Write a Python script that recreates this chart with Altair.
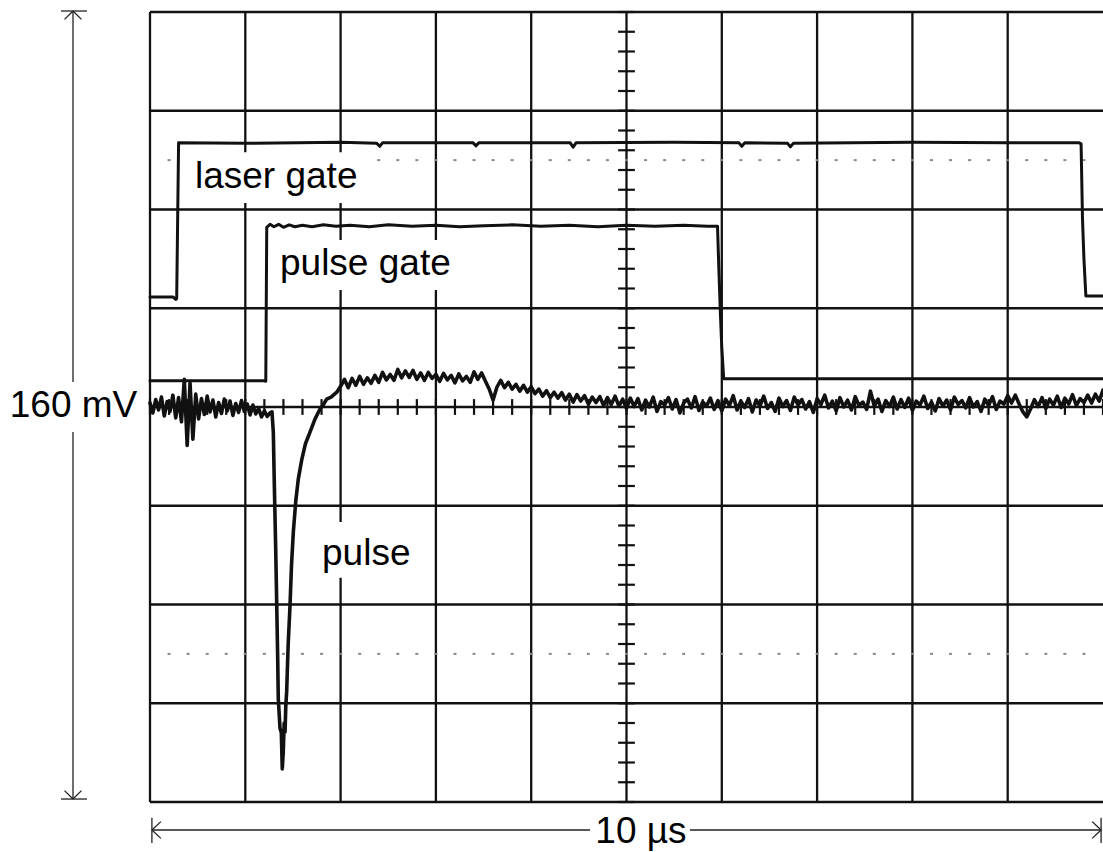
import altair as alt
import pandas as pd

# Scope screen: 1 µs/div horizontally (10 div), 20 mV/div vertically (8 div)
T_DOMAIN = [0, 10]
V_DOMAIN = [-80, 80]

# Channel 1: laser gate (mV vs µs)
laser_t = [0, 0.24, 0.27, 0.28, 0.30, 1.0, 2.0, 2.38, 2.41, 2.44, 3.39, 3.42, 3.45,
           4.41, 4.44, 4.47, 5.5, 6.18, 6.21, 6.24, 6.69, 6.72, 6.75, 8.0, 9.0, 9.75,
           9.77, 9.785, 9.80, 9.82, 10]
laser_v = [22.3, 22.3, 21.8, 22.0, 53.5, 53.4, 53.6, 53.4, 52.8, 53.5, 53.5, 52.9, 53.5,
           53.5, 52.6, 53.5, 53.6, 53.5, 52.8, 53.5, 53.4, 52.7, 53.4, 53.6, 53.5, 53.5,
           53.3, 38, 30, 22.5, 22.5]

# Channel 2: pulse gate
gate_t = [0, 1.20, 1.215, 1.225, 1.26, 1.30, 1.35, 1.40, 1.46, 1.52, 1.60, 1.70, 1.82,
          1.95, 2.10, 2.30, 2.50, 2.75, 3.00, 3.25, 3.50, 3.80, 4.10, 4.40, 4.70, 5.00,
          5.30, 5.60, 5.85, 5.955, 5.97, 5.985, 6.00, 6.02, 10]
gate_v = [5.3, 5.3, 5.2, 36.4, 37.0, 36.5, 37.0, 36.4, 36.9, 36.5, 36.8, 36.5, 36.9,
          36.6, 36.8, 36.5, 36.9, 36.6, 36.8, 36.5, 36.7, 36.9, 36.6, 36.8, 36.5, 36.8,
          36.6, 36.8, 36.6, 36.6, 27.5, 19, 12, 5.7, 5.7]

# Channel 3: detected pulse
# pre-trigger record, one sample every 0.03 µs from 0 µs
pre_dt = 0.03
pulse_pre = [0.8, -1.2, 1.5, -0.6, 2.0, -1.8, 1.1, -0.9, 2.4, -2.2, 1.9, -3.0, 5.6,
             -7.8, 4.9, -6.5, 2.6, -2.4, 1.7, -1.5, 2.2, -1.0, 1.4, -2.0, 0.9, -1.3,
             1.6, -0.8, 1.2, -1.7, 0.7, -1.1, 1.3, -0.9, 0.6, -1.6, 0.4, -1.4, -0.3,
             -2.0, -0.8, -1.9, -1.2]
# fast negative edge and recovery
edge_t = [1.28, 1.294, 1.304, 1.319, 1.330, 1.340, 1.346, 1.364, 1.378, 1.388,
          1.398, 1.408, 1.417, 1.425, 1.434, 1.45, 1.469, 1.485, 1.504, 1.53,
          1.556, 1.592, 1.63, 1.679, 1.73, 1.784, 1.82, 1.854, 1.90, 1.96]
edge_v = [-1.0, -5.1, -15.2, -28.8, -40.3, -51.0, -59.0, -65.0, -66.0, -73.3,
          -70.0, -64.0, -65.8, -60.5, -57.7, -48.0, -40.3, -32.0, -25.3, -19.0,
          -14.6, -10.7, -7.5, -5.1, -2.5, -0.4, 0.5, 1.6, 2.0, 3.0]
# tail record, one sample every 0.04 µs from 2.00 µs
tail_t0 = 2.0
tail_dt = 0.04
pulse_tail = [
    4.2, 5.6, 3.9, 5.8, 4.4, 6.2, 4.6, 5.9, 4.8, 6.4,
    5.0, 7.0, 5.5, 6.6, 5.4, 7.6, 5.9, 7.3, 6.0, 7.4,
    5.6, 6.9, 5.4, 7.0, 5.8, 6.6, 5.2, 6.8, 5.5, 6.4,
    4.9, 6.7, 5.3, 6.2, 5.0, 7.1, 5.6, 6.9, 5.2, 3.6,
    1.4, 4.0, 5.4, 3.9, 5.0, 3.6, 4.6, 3.2, 4.4, 3.0,
    4.1, 2.7, 3.6, 2.2, 3.3, 1.9, 3.0, 1.8, 2.9, 1.4,
    2.6, 1.0, 2.5, 1.2, 2.3, 0.6, 2.0, 0.9, 2.1, 0.3,
    1.9, 0.5, 2.2, 0.2, 1.6, -0.3, 1.8, 0.1, 1.7, -0.6,
    1.4, 0.0, 2.0, -0.9, 1.1, 0.4, 1.9, -0.4, 1.5, -1.2,
    0.8, 1.6, -0.2, 2.1, -0.7, 1.0, 0.2, 1.8, -0.5, 1.3,
    -0.8, 1.6, 0.3, 2.3, -0.6, 1.2, -0.1, 1.7, -1.0, 1.4,
    0.2, 2.2, -0.3, 0.9, -0.9, 1.8, 0.1, 1.3, -0.7, 2.0,
    0.4, 1.5, -0.4, 1.1, -1.1, 1.7, 0.5, 2.4, -0.2, 1.2,
    -0.8, 1.9, 0.0, 1.4, -0.6, 2.1, 0.3, 1.0, -0.5, 3.2,
    0.2, 1.6, -0.9, 1.3, 0.1, 2.0, -0.4, 1.5, -0.1, 1.8,
    -0.7, 1.2, 0.4, 2.2, -0.3, 1.0, -0.8, 1.7, 0.2, 1.4,
    -0.6, 2.0, 0.5, 1.3, -0.2, 1.9, 0.0, 1.1, -0.9, 1.6,
    0.3, 2.1, -0.5, 1.2, 0.6, 2.3, 0.8, 2.4, 0.6, -1.0,
    -2.0, -0.4, 1.5, 0.1, 1.9, -0.3, 1.6, 0.4, 2.2, -0.1,
    1.8, 0.6, 2.5, 0.3, 1.7, 0.9, 2.4, 0.8, 2.6, 1.2,
    3.4,
]

TRACE = "#111111"
FONT = "Liberation Sans"
FS = 37

rows = []
for name, ts, vs in (("laser", laser_t, laser_v), ("gate", gate_t, gate_v)):
    for i, (t, v) in enumerate(zip(ts, vs)):
        rows.append({"ch": name, "i": i, "t": t, "v": v})
gates = pd.DataFrame(rows)

pulse_pts = [(round(k * pre_dt, 3), v) for k, v in enumerate(pulse_pre)]
pulse_pts += list(zip(edge_t, edge_v))
pulse_pts += [(round(tail_t0 + k * tail_dt, 3), v) for k, v in enumerate(pulse_tail)]
pulse = pd.DataFrame([{"i": i, "t": t, "v": v} for i, (t, v) in enumerate(pulse_pts)])

xs = alt.Scale(domain=T_DOMAIN, nice=False, zero=False)
ys = alt.Scale(domain=V_DOMAIN, nice=False, zero=False)


def X(f="t"):
    return alt.X(f"{f}:Q", scale=xs, axis=None)


def Y(f="v"):
    return alt.Y(f"{f}:Q", scale=ys, axis=None)


# graticule
vgrid = pd.DataFrame({"t": list(range(0, 10)), "v0": -80, "v1": 80})
hgrid = pd.DataFrame({"v": list(range(-80, 81, 20)), "t0": 0, "t1": 10})
grid = alt.layer(
    alt.Chart(vgrid).mark_rule(color=TRACE, strokeWidth=2.3).encode(
        x=X("t"), y=Y("v0"), y2="v1"),
    alt.Chart(hgrid).mark_rule(color=TRACE, strokeWidth=2.3).encode(
        x=X("t0"), x2="t1", y=Y("v")),
)

# minor ticks on the centre cross-hair (0.2 div)
vt = [round(-80 + 4 * k, 1) for k in range(41)]
ht = [round(0.2 * k, 2) for k in range(51)]
vticks = pd.DataFrame({"v": vt, "t0": 5 - 0.088, "t1": 5 + 0.088})
hticks = pd.DataFrame({"t": ht, "v0": -1.6, "v1": 1.6})
ticks = alt.layer(
    alt.Chart(vticks).mark_rule(color=TRACE, strokeWidth=2.2).encode(
        x=X("t0"), x2="t1", y=Y("v")),
    alt.Chart(hticks).mark_rule(color=TRACE, strokeWidth=2.2).encode(
        x=X("t"), y=Y("v0"), y2="v1"),
)

# dotted 0 % / 100 % reference rows at +/-2.5 div
dots = pd.DataFrame([
    {"t0": round(0.2 * k, 2) - 0.016, "t1": round(0.2 * k, 2) + 0.016, "v": v}
    for v in (50, -50) for k in range(1, 50)
])
dotted = alt.Chart(dots).mark_rule(color="#8a8a8a", strokeWidth=2).encode(
    x=X("t0"), x2="t1", y=Y("v"))

# white backing behind the labels
boxes = pd.DataFrame([
    {"t0": 0.346, "t1": 2.33, "v0": 41.3, "v1": 51.6},
    {"t0": 1.28, "t1": 3.27, "v0": 23.7, "v1": 33.8},
    {"t0": 1.742, "t1": 2.791, "v0": -34.6, "v1": -23.3},
    {"t0": -1.49, "t1": -0.115, "v0": -5.06, "v1": 5.06},
    {"t0": 4.617, "t1": 5.666, "v0": -89.3, "v1": -82.6},
])
backing = alt.Chart(boxes).mark_rect(color="white").encode(
    x=X("t0"), x2="t1", y=Y("v0"), y2="v1")

gate_lines = alt.Chart(gates).mark_line(
    color=TRACE, strokeWidth=3, strokeJoin="round", strokeCap="round"
).encode(x=X("t"), y=Y("v"), detail="ch:N", order="i:Q")

pulse_line = alt.Chart(pulse).mark_line(
    color=TRACE, strokeWidth=3.6, strokeJoin="round", strokeCap="round"
).encode(x=X("t"), y=Y("v"), order="i:Q")

# scale bars
AX = -0.808
BY = -85.67
bars = pd.DataFrame([
    # 160 mV bar
    {"t0": AX, "t1": AX, "v0": -79.4, "v1": 80.2},
    {"t0": -0.934, "t1": -0.661, "v0": 80.2, "v1": 80.2},
    {"t0": -0.934, "t1": -0.661, "v0": -79.4, "v1": -79.4},
    {"t0": AX, "t1": AX - 0.089, "v0": 80.2, "v1": 78.5},
    {"t0": AX, "t1": AX + 0.089, "v0": 80.2, "v1": 78.5},
    {"t0": AX, "t1": AX - 0.089, "v0": -79.4, "v1": -77.7},
    {"t0": AX, "t1": AX + 0.089, "v0": -79.4, "v1": -77.7},
    # 10 µs bar
    {"t0": 0.02, "t1": 9.98, "v0": BY, "v1": BY},
    {"t0": 0.02, "t1": 0.02, "v0": -83.2, "v1": -88.3},
    {"t0": 9.98, "t1": 9.98, "v0": -83.2, "v1": -88.3},
    {"t0": 0.02, "t1": 0.114, "v0": BY, "v1": BY + 1.7},
    {"t0": 0.02, "t1": 0.114, "v0": BY, "v1": BY - 1.7},
    {"t0": 9.98, "t1": 9.886, "v0": BY, "v1": BY + 1.7},
    {"t0": 9.98, "t1": 9.886, "v0": BY, "v1": BY - 1.7},
])
scalebars = alt.Chart(bars).mark_rule(color="#222222", strokeWidth=1.3).encode(
    x=X("t0"), x2="t1", y=Y("v0"), y2="v1")

labels = pd.DataFrame([
    {"t": 0.472, "v": 44.35, "txt": "laser gate"},
    {"t": 1.364, "v": 26.7, "txt": "pulse gate"},
    {"t": 1.805, "v": -32.0, "txt": "pulse"},
])
label_marks = alt.Chart(labels).mark_text(
    font=FONT, fontSize=FS, color="black", align="left", baseline="alphabetic"
).encode(x=X("t"), y=Y("v"), text="txt:N")

scale_labels = pd.DataFrame([
    {"t": -0.803, "v": -2.03, "txt": "160 mV"},
    {"t": 5.152, "v": -88.3, "txt": "10 µs"},
])
scale_text = alt.Chart(scale_labels).mark_text(
    font=FONT, fontSize=FS, color="black", align="center", baseline="alphabetic"
).encode(x=X("t"), y=Y("v"), text="txt:N")

chart = alt.layer(
    grid, dotted, ticks, scalebars, backing, gate_lines, pulse_line,
    label_marks, scale_text
).properties(
    width=953,
    height=790,
    padding={"left": 150, "top": 12, "right": 0, "bottom": 50},
    autosize="none",
    background="white",
).configure_view(stroke=None)

chart.save("out.html", embed_options={"renderer": "svg", "actions": False})
